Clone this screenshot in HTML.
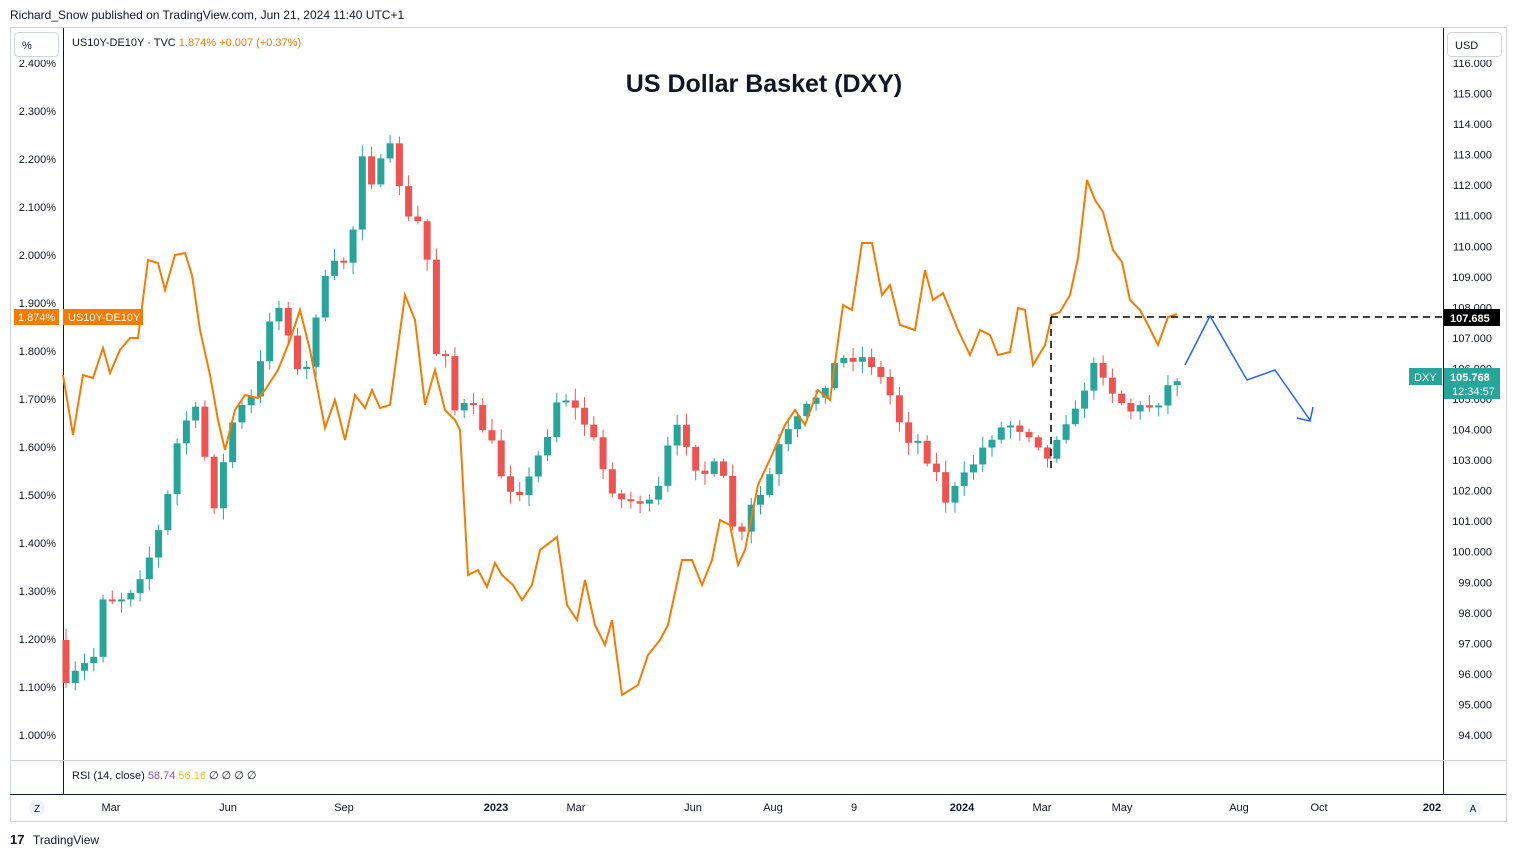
<!DOCTYPE html>
<html><head><meta charset="utf-8"><style>
body{margin:0;background:#fff;width:1516px;height:857px;overflow:hidden;font-family:"Liberation Sans",sans-serif}
svg text{font-family:"Liberation Sans",sans-serif}
</style></head><body>
<svg id="s" width="1516" height="857" xmlns="http://www.w3.org/2000/svg">
<rect x="0" y="0" width="1516" height="857" fill="#fff"/>
<text x="10" y="19" font-size="12" fill="#131722">Richard_Snow published on TradingView.com, Jun 21, 2024 11:40 UTC+1</text>
<rect x="10.5" y="27.5" width="1496" height="794" fill="none" stroke="#d1d4dc"/>
<line x1="63.5" y1="28" x2="63.5" y2="795" stroke="#131722"/>
<line x1="1443.5" y1="28" x2="1443.5" y2="795" stroke="#131722"/>
<line x1="10" y1="760.5" x2="1506" y2="760.5" stroke="#d1d4dc"/>
<line x1="10" y1="794.5" x2="1506" y2="794.5" stroke="#131722"/>
<g id="g"></g>
<rect x="11" y="28" width="52" height="32" fill="#fff"/>
<rect x="1444" y="28" width="62" height="32" fill="#fff"/>
<rect x="14.5" y="32.5" width="44" height="24" rx="4" fill="#fff" stroke="#d1d4dc"/>
<text x="22" y="49" font-size="11" fill="#131722">%</text>
<rect x="1447.5" y="32.5" width="54" height="24" rx="4" fill="#fff" stroke="#d1d4dc"/>
<text x="1455" y="49" font-size="11" fill="#131722">USD</text>
<text x="72" y="46" font-size="11" fill="#131722">US10Y-DE10Y · TVC <tspan fill="#f57c00">1.874%  +0.007 (+0.37%)</tspan></text>
<text x="764" y="92" font-size="25" font-weight="bold" text-anchor="middle" fill="#131722">US Dollar Basket (DXY)</text>
<text x="72" y="779" font-size="11" fill="#131722">RSI (14, close) <tspan fill="#7e57c2">58.74</tspan> <tspan fill="#fbc02d">56.16</tspan> <tspan>∅ ∅ ∅ ∅</tspan></text>
<text x="10" y="844" font-size="13" font-weight="bold" fill="#131722">17</text>
<text x="33" y="844" font-size="12" fill="#131722">TradingView</text>
</svg>
<script>
(function(){
var g=document.getElementById('g'),h='';
function T(x,y,t,o){h+='<text x="'+x+'" y="'+y+'" font-size="11" fill="#131722" '+(o||'')+'>'+t+'</text>';}
for(var i=0;i<=14;i++){var y=735-i*48;T(56,y+4,(1+i*0.1).toFixed(3)+'%','text-anchor="end"');}
for(var p=94;p<=116;p++){var y=735-(p-94)*30.545;T(1492,y+4,p.toFixed(3),'text-anchor="end"');}
var xl=[[111,'Mar'],[228,'Jun'],[344,'Sep'],[496,'2023'],[576,'Mar'],[693,'Jun'],[773,'Aug'],[854,'9'],[962,'2024'],[1042,'Mar'],[1122,'May'],[1239,'Aug'],[1319,'Oct'],[1432,'202']];
xl.forEach(function(a){T(a[0],811,a[1],'text-anchor="middle"'+(/20/.test(a[1])?' font-weight="bold"':''));});
h+='<circle cx="37" cy="808" r="8" fill="#f0f3fa"/><text x="37" y="812" font-size="10" text-anchor="middle" fill="#131722">Z</text>';
h+='<circle cx="1473" cy="808" r="8" fill="#f0f3fa"/><text x="1473" y="812" font-size="10" text-anchor="middle" fill="#131722">A</text>';
var A=[[66,690],[75,675],[95,655],[103,595],[120,600],[130,590],[148,560],[165,515],[175,450],[190,410],[200,415],[210,500],[218,505],[228,430],[240,410],[255,395],[265,340],[272,305],[285,310],[295,370],[305,380],[318,300],[330,270],[350,255],[362,150],[372,180],[390,150],[400,185],[408,220],[425,225],[433,355],[445,345],[455,410],[470,405],[490,440],[505,485],[525,490],[545,440],[560,390],[575,410],[590,430],[605,475],[620,500],[640,500],[655,510],[665,455],[680,425],[700,475],[720,465],[738,550],[750,510],[765,490],[780,445],[795,425],[820,390],[835,365],[850,355],[870,360],[890,395],[905,435],[920,445],[935,470],[945,500],[960,485],[975,460],[995,430],[1015,425],[1035,435],[1050,465],[1060,420],[1075,415],[1090,370],[1100,365],[1115,395],[1130,410],[1145,408],[1160,400],[1170,383],[1177,377]];
function interp(x){for(var i=1;i<A.length;i++){if(x<=A[i][0]){var a=A[i-1],b=A[i];return a[1]+(b[1]-a[1])*(x-a[0])/(b[0]-a[0]);}}return A[A.length-1][1];}
var seed=7;function r(){seed=(seed*16807)%2147483647;return seed/2147483647;}
var prev=640;
for(var i=0;i<121;i++){var x=66+i*9.26;var c=interp(x)+(r()-0.5)*14;var o=prev;
if(Math.abs(c-o)<2){c=o+(c<o?-2:2);}
prev=c;
var hi=Math.min(o,c)-2-r()*10,lo=Math.max(o,c)+2+r()*10;var col=c<o?'#26a69a':'#ef5350';
h+='<line x1="'+x+'" y1="'+hi+'" x2="'+x+'" y2="'+lo+'" stroke="'+col+'"/>';
h+='<rect x="'+(x-3.5)+'" y="'+Math.min(o,c)+'" width="7" height="'+Math.abs(c-o)+'" fill="'+col+'"/>';}
var O="63,375 73,435 83,375 93,378 103,348 110,373 120,350 130,338 138,338 148,260 158,263 165,290 175,255 185,253 192,275 200,330 210,375 218,420 225,450 235,410 245,395 258,398 265,390 278,370 290,340 300,310 310,350 325,428 335,400 345,440 355,395 365,408 372,390 380,408 390,405 405,295 415,320 425,405 435,370 445,410 455,420 460,430 468,575 478,570 487,587 495,563 502,575 513,585 522,600 532,585 540,550 557,537 567,605 577,620 585,580 595,625 605,645 612,620 622,695 638,685 648,655 660,640 668,625 682,560 692,560 702,585 712,560 720,520 730,525 738,565 745,550 758,485 772,455 785,425 795,410 805,425 818,390 830,400 843,305 852,310 862,243 872,243 882,295 890,285 900,325 915,330 925,270 933,300 943,293 950,310 958,330 970,355 980,330 990,335 998,355 1010,352 1018,308 1025,310 1033,365 1045,345 1052,315 1060,312 1070,295 1078,258 1087,180 1095,200 1103,212 1113,250 1122,262 1130,300 1140,310 1148,325 1158,345 1168,317 1177,314";
h+='<polyline points="'+O+'" fill="none" stroke="#f57c00" stroke-width="2"/>';
h+='<line x1="1051" y1="317" x2="1443" y2="317" stroke="#000" stroke-width="1.5" stroke-dasharray="7,5"/>';
h+='<line x1="1051" y1="317" x2="1051" y2="470" stroke="#000" stroke-width="1.5" stroke-dasharray="7,5"/>';
h+='<polyline points="1185,365 1210,316 1247,380 1275,370 1310,420" fill="none" stroke="#2962ff" stroke-width="1.5"/>';
h+='<polyline points="1297,418 1310,421 1313,407" fill="none" stroke="#2962ff" stroke-width="1.5"/>';
h+='<rect x="14" y="309" width="45" height="16" fill="#f57c00"/><text x="18" y="321" font-size="11" fill="#fff">1.874%</text>';
h+='<rect x="63" y="309" width="80" height="16" fill="#f57c00"/><text x="68" y="321" font-size="11" fill="#fff">US10Y-DE10Y</text>';
h+='<rect x="1444" y="309" width="56" height="17" fill="#000"/><text x="1450" y="322" font-size="11" font-weight="bold" fill="#fff">107.685</text>';
h+='<rect x="1409" y="368" width="33" height="17" fill="#26a69a"/><text x="1414" y="381" font-size="11" fill="#fff">DXY</text>';
h+='<rect x="1444" y="368" width="56" height="31" fill="#26a69a"/><text x="1450" y="381" font-size="11" font-weight="bold" fill="#fff">105.768</text><text x="1452" y="395" font-size="11" fill="#fff">12:34:57</text>';
g.innerHTML=h;
})();
</script>
</body></html>
